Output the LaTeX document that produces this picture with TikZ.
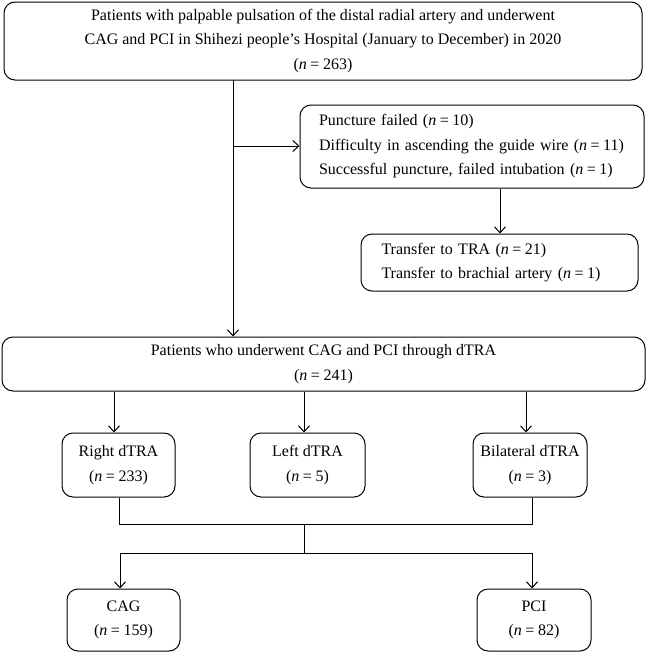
\documentclass[tikz,border=0pt]{standalone}
\usepackage{fontspec}
\setmainfont{Liberation Serif}
\usetikzlibrary{arrows.meta}
\newcommand{\nn}{\textit{n}\hspace{3.5pt}=\hspace{3.5pt}}
\tikzset{
  box/.style={draw, line width=1pt, rounded corners=11pt, inner sep=0pt, font=\fontsize{16}{24.5}\selectfont},
  conn/.style={line width=1pt},
  arr/.style={line width=1pt, -{Straight Barb[length=6pt,width=11pt,line width=1pt]}},
}
\begin{document}
\begin{tikzpicture}[x=1pt,y=-1pt]
\useasboundingbox (0,0) rectangle (646,653);
\node[box, minimum width=638, minimum height=78, align=center] (top) at (323,41)
  {Patients with palpable pulsation of the distal radial artery and underwent\\
   CAG and PCI in Shihezi people’s Hospital (January to December) in 2020\\
   (\nn263)};
\node[box, minimum width=344, minimum height=83, text width=306, align=left] (excl) at (472,146.5)
  {Puncture failed (\nn10)\\
   Difficulty in ascending the guide wire (\nn11)\\
   Successful puncture, failed intubation (\nn1)};
\node[box, minimum width=277, minimum height=57, text width=236, align=left] (trans) at (499.5,262.5)
  {Transfer to TRA (\nn21)\\
   Transfer to brachial artery (\nn1)};
\node[box, minimum width=643, minimum height=54, align=center] (dtra) at (323.5,364)
  {Patients who underwent CAG and PCI through dTRA\\ (\nn241)};
\node[box, minimum width=113, minimum height=64, align=center] (right) at (118.5,465)
  {Right dTRA\\ (\nn233)};
\node[box, minimum width=115, minimum height=64, align=center] (left) at (307.5,465)
  {Left dTRA\\ (\nn5)};
\node[box, minimum width=114, minimum height=64, align=center] (bil) at (530,465)
  {Bilateral dTRA\\ (\nn3)};
\node[box, minimum width=113, minimum height=62, align=center] (cag) at (123.5,620)
  {CAG\\ (\nn159)};
\node[box, minimum width=114, minimum height=62, align=center] (pci) at (534,620)
  {PCI\\ (\nn82)};
% main trunk
\coordinate (t0) at (233,80);
\coordinate (tb) at (233,146);
\draw[arr] (t0) -- (t0 |- dtra.north);
\draw[arr] (tb) -- (tb -| excl.west);
\draw[arr] (excl.south -| 500,0) -- (trans.north -| 500,0);
% to level 2
\draw[arr] (dtra.south -| 114,0) -- (right.north -| 114,0);
\draw[arr] (dtra.south -| 304,0) -- (left.north -| 304,0);
\draw[arr] (dtra.south -| 526,0) -- (bil.north -| 526,0);
% merge
\coordinate (m1) at (119,524);
\coordinate (m2) at (532,524);
\coordinate (mc) at (304,524);
\coordinate (sc) at (304,553);
\coordinate (s1) at (120,553);
\coordinate (s2) at (532,553);
\draw[conn] (right.south -| m1) -- (m1) -- (m2) -- (bil.south -| m2);
\draw[conn] (mc) -- (sc);
\draw[arr] (sc) -- (s1) -- (cag.north -| s1);
\draw[arr] (sc) -- (s2) -- (pci.north -| s2);
\end{tikzpicture}
\end{document}
